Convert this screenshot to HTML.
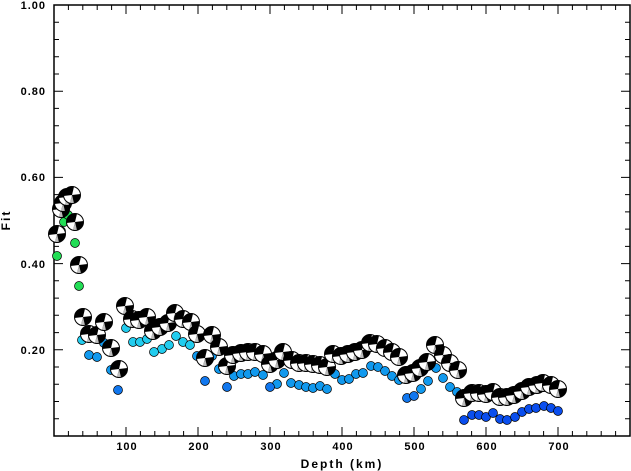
<!DOCTYPE html>
<html><head><meta charset="utf-8"><style>
html,body{margin:0;padding:0;background:#fff;}
svg{display:block;}
text{font-family:"Liberation Sans",sans-serif;font-weight:bold;fill:#000;}
</style></head><body>
<svg width="631" height="471" viewBox="0 0 631 471" xmlns="http://www.w3.org/2000/svg">
<defs>
<g id="b"><circle r="8.5" fill="#000"/><path d="M0 0 L8.5 -1 A8.5 8.5 0 0 0 2 -8.3 Z" fill="#fff"/><path d="M0 0 L-8.5 1 A8.5 8.5 0 0 0 -2 8.3 Z" fill="#fff"/><path d="M0 0 L-2 8.3 A8.5 8.5 0 0 0 2 8.3 Z" fill="#bbb"/><circle r="8.5" fill="none" stroke="#000" stroke-width="1"/></g>
</defs>
<rect x="54" y="5" width="576" height="431" fill="none" stroke="#000" stroke-width="1.5"/>
<g stroke="#000" stroke-width="1">
<path d="M54 91.2h9M54 177.4h9M54 263.6h9M54 349.8h9M630 91.2h-9M630 177.4h-9M630 263.6h-9M630 349.8h-9"/>
<path d="M54 22.2h5M54 39.5h5M54 56.7h5M54 74h5M54 108.4h5M54 125.7h5M54 142.9h5M54 160.2h5M54 194.6h5M54 211.9h5M54 229.1h5M54 246.4h5M54 280.8h5M54 298.1h5M54 315.3h5M54 332.6h5M54 367h5M54 384.3h5M54 401.5h5M54 418.8h5"/>
<path d="M630 22.2h-5M630 39.5h-5M630 56.7h-5M630 74h-5M630 108.4h-5M630 125.7h-5M630 142.9h-5M630 160.2h-5M630 194.6h-5M630 211.9h-5M630 229.1h-5M630 246.4h-5M630 280.8h-5M630 298.1h-5M630 315.3h-5M630 332.6h-5M630 367h-5M630 384.3h-5M630 401.5h-5M630 418.8h-5"/>
<path d="M126 436v-9M198 436v-9M270 436v-9M342 436v-9M414 436v-9M486 436v-9M558 436v-9M126 5v9M198 5v9M270 5v9M342 5v9M414 5v9M486 5v9M558 5v9"/>
<path d="M68.4 436v-5M82.8 436v-5M97.2 436v-5M111.6 436v-5M140.4 436v-5M154.8 436v-5M169.2 436v-5M183.6 436v-5M212.4 436v-5M226.8 436v-5M241.2 436v-5M255.6 436v-5M284.4 436v-5M298.8 436v-5M313.2 436v-5M327.6 436v-5M356.4 436v-5M370.8 436v-5M385.2 436v-5M399.6 436v-5M428.4 436v-5M442.8 436v-5M457.2 436v-5M471.6 436v-5M500.4 436v-5M514.8 436v-5M529.2 436v-5M543.6 436v-5M572.4 436v-5M586.8 436v-5M601.2 436v-5M615.6 436v-5"/>
<path d="M68.4 5v5M82.8 5v5M97.2 5v5M111.6 5v5M140.4 5v5M154.8 5v5M169.2 5v5M183.6 5v5M212.4 5v5M226.8 5v5M241.2 5v5M255.6 5v5M284.4 5v5M298.8 5v5M313.2 5v5M327.6 5v5M356.4 5v5M370.8 5v5M385.2 5v5M399.6 5v5M428.4 5v5M442.8 5v5M457.2 5v5M471.6 5v5M500.4 5v5M514.8 5v5M529.2 5v5M543.6 5v5M572.4 5v5M586.8 5v5M601.2 5v5M615.6 5v5"/>
</g>
<g font-size="11" text-anchor="end" letter-spacing="1">
<text x="46" y="9">1.00</text><text x="46" y="95">0.80</text><text x="46" y="181">0.60</text><text x="46" y="268">0.40</text><text x="46" y="354">0.20</text>
</g>
<g font-size="11" text-anchor="middle" letter-spacing="1">
<text x="127" y="450">100</text><text x="199" y="450">200</text><text x="271" y="450">300</text><text x="343" y="450">400</text><text x="415" y="450">500</text><text x="487" y="450">600</text><text x="559" y="450">700</text>
</g>
<text x="342" y="468" font-size="12" text-anchor="middle" letter-spacing="2">Depth (km)</text>
<text transform="translate(10,220) rotate(-90)" font-size="12" text-anchor="middle" letter-spacing="2">Fit</text>
<g stroke="#000" stroke-width="0.7">
<g fill="#22dd55"><circle cx="57" cy="256" r="4.5"/><circle cx="61" cy="231" r="4.5"/><circle cx="64" cy="222" r="4.5"/><circle cx="68" cy="215" r="4.5"/><circle cx="75" cy="243" r="4.5"/><circle cx="79" cy="286" r="4.5"/></g>
<g fill="#22ccee"><circle cx="82" cy="340" r="4.5"/><circle cx="126" cy="328" r="4.5"/><circle cx="133" cy="342" r="4.5"/><circle cx="140" cy="342" r="4.5"/><circle cx="147" cy="339" r="4.5"/><circle cx="176" cy="336" r="4.5"/><circle cx="183" cy="342" r="4.5"/><circle cx="190" cy="345" r="4.5"/><circle cx="162" cy="349" r="4.5"/><circle cx="169" cy="345" r="4.5"/><circle cx="154" cy="352" r="4.5"/></g>
<g fill="#1199ee"><circle cx="89" cy="355" r="4.5"/><circle cx="97" cy="357" r="4.5"/><circle cx="104" cy="343" r="4.5"/><circle cx="111" cy="370" r="4.5"/><circle cx="197" cy="356" r="4.5"/><circle cx="212" cy="356" r="4.5"/><circle cx="219" cy="369" r="4.5"/><circle cx="234" cy="376" r="4.5"/><circle cx="241" cy="374" r="4.5"/><circle cx="248" cy="374" r="4.5"/><circle cx="255" cy="372" r="4.5"/><circle cx="263" cy="375" r="4.5"/><circle cx="277" cy="384" r="4.5"/><circle cx="284" cy="373" r="4.5"/><circle cx="291" cy="383" r="4.5"/><circle cx="299" cy="385" r="4.5"/><circle cx="306" cy="387" r="4.5"/><circle cx="313" cy="388" r="4.5"/><circle cx="320" cy="386" r="4.5"/><circle cx="327" cy="389" r="4.5"/><circle cx="335" cy="374" r="4.5"/><circle cx="342" cy="380" r="4.5"/><circle cx="349" cy="379" r="4.5"/><circle cx="356" cy="374" r="4.5"/><circle cx="363" cy="373" r="4.5"/><circle cx="371" cy="366" r="4.5"/><circle cx="378" cy="367" r="4.5"/><circle cx="385" cy="371" r="4.5"/><circle cx="392" cy="376" r="4.5"/><circle cx="399" cy="380" r="4.5"/><circle cx="421" cy="389" r="4.5"/><circle cx="428" cy="381" r="4.5"/><circle cx="436" cy="368" r="4.5"/><circle cx="443" cy="378" r="4.5"/><circle cx="450" cy="387" r="4.5"/><circle cx="457" cy="392" r="4.5"/></g>
<g fill="#1177ee"><circle cx="118" cy="390" r="4.5"/><circle cx="205" cy="381" r="4.5"/><circle cx="227" cy="387" r="4.5"/><circle cx="270" cy="387" r="4.5"/><circle cx="407" cy="398" r="4.5"/><circle cx="414" cy="396" r="4.5"/></g>
<g fill="#0a4eee"><circle cx="464" cy="420" r="4.5"/><circle cx="472" cy="415" r="4.5"/><circle cx="479" cy="415" r="4.5"/><circle cx="486" cy="417" r="4.5"/><circle cx="493" cy="413" r="4.5"/><circle cx="500" cy="419" r="4.5"/><circle cx="507" cy="420" r="4.5"/><circle cx="515" cy="417" r="4.5"/><circle cx="522" cy="412" r="4.5"/><circle cx="529" cy="409" r="4.5"/><circle cx="536" cy="408" r="4.5"/><circle cx="544" cy="406" r="4.5"/><circle cx="551" cy="408" r="4.5"/><circle cx="558" cy="411" r="4.5"/></g>
</g>
<g>
<use href="#b" x="57" y="234"/><use href="#b" x="61" y="209"/><use href="#b" x="63" y="203"/><use href="#b" x="67" y="197"/><use href="#b" x="72" y="195"/><use href="#b" x="75" y="222"/><use href="#b" x="79" y="265"/><use href="#b" x="83" y="317"/><use href="#b" x="89" y="334"/><use href="#b" x="97" y="335"/><use href="#b" x="104" y="322"/><use href="#b" x="111" y="348"/><use href="#b" x="119" y="369"/>
<use href="#b" x="125" y="306"/><use href="#b" x="132" y="319"/><use href="#b" x="139" y="320"/><use href="#b" x="147" y="317"/><use href="#b" x="153" y="331"/><use href="#b" x="160" y="327"/><use href="#b" x="168" y="323"/><use href="#b" x="175" y="313"/><use href="#b" x="183" y="319"/><use href="#b" x="191" y="322"/><use href="#b" x="197" y="334"/><use href="#b" x="205" y="358"/><use href="#b" x="212" y="335"/><use href="#b" x="219" y="347"/><use href="#b" x="227" y="366"/><use href="#b" x="233" y="355"/><use href="#b" x="241" y="353"/><use href="#b" x="248" y="352"/><use href="#b" x="255" y="352"/><use href="#b" x="263" y="354"/><use href="#b" x="270" y="364"/><use href="#b" x="277" y="360"/><use href="#b" x="283" y="352"/><use href="#b" x="292" y="360"/><use href="#b" x="299" y="363"/>
<use href="#b" x="306" y="363"/><use href="#b" x="313" y="364"/><use href="#b" x="320" y="365"/><use href="#b" x="327" y="367"/><use href="#b" x="333" y="354"/><use href="#b" x="341" y="356"/><use href="#b" x="348" y="354"/><use href="#b" x="355" y="352"/><use href="#b" x="362" y="350"/><use href="#b" x="370" y="343"/><use href="#b" x="377" y="344"/><use href="#b" x="385" y="348"/><use href="#b" x="392" y="352"/><use href="#b" x="399" y="357"/><use href="#b" x="406" y="375"/><use href="#b" x="413" y="373"/><use href="#b" x="420" y="368"/><use href="#b" x="427" y="362"/><use href="#b" x="435" y="345"/><use href="#b" x="443" y="355"/><use href="#b" x="450" y="363"/><use href="#b" x="458" y="370"/><use href="#b" x="464" y="398"/><use href="#b" x="472" y="393"/><use href="#b" x="479" y="393"/><use href="#b" x="486" y="394"/><use href="#b" x="493" y="392"/><use href="#b" x="500" y="397"/><use href="#b" x="507" y="397"/><use href="#b" x="514" y="395"/><use href="#b" x="522" y="391"/><use href="#b" x="529" y="387"/><use href="#b" x="537" y="385"/><use href="#b" x="543" y="383"/><use href="#b" x="551" y="385"/><use href="#b" x="558" y="389"/>
</g>
</svg>
</body></html>
